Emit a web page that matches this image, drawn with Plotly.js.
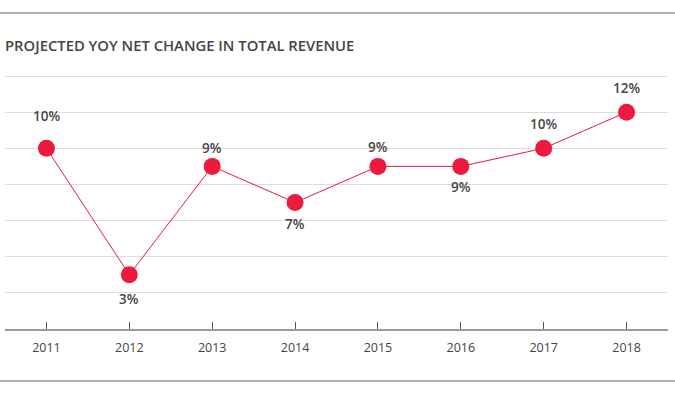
<!DOCTYPE html>
<html>
<head>
<meta charset="utf-8">
<script src="https://cdn.plot.ly/plotly-3.0.1.min.js"></script>
<style>html,body{margin:0;padding:0;background:#fff;}#chart{width:675px;height:395px;}</style>
</head>
<body>
<div id="chart"></div>
<script>
const years = [2011, 2012, 2013, 2014, 2015, 2016, 2017, 2018];
const values = [10, 3, 9, 7, 9, 9, 10, 12];
const labels = ["10%", "3%", "9%", "7%", "9%", "9%", "10%", "12%"];
const labelShift = [32, -24, 18, -21, 19, -21, 24, 24];

const red = "#ec1a3d";
const textColor = "#444444";
const font = "Open Sans, Noto Sans, sans-serif";

const plotTop = 67, plotBottom = 329, plotH = plotBottom - plotTop;
const plotLeft = 5, plotRight = 668, plotW = plotRight - plotLeft;

const trace = {
  x: years, y: values, type: "scatter", mode: "lines+markers",
  line: {color: red, width: 1},
  marker: {color: red, size: 17},
  hoverinfo: "skip"
};

const annotations = years.map((yr, i) => ({
  x: yr, y: values[i], xref: "x", yref: "y",
  text: labels[i], showarrow: false, yshift: labelShift[i],
  font: {family: font, size: 13.5, color: textColor, weight: 600}
}));
annotations.push({
  xref: "paper", yref: "paper", x: 0, y: (plotBottom - 45) / plotH,
  xanchor: "left", yanchor: "middle", showarrow: false, xshift: -2,
  text: "PROJECTED YOY NET CHANGE IN TOTAL REVENUE",
  font: {family: font, size: 14.8, color: textColor, weight: 600}
});

const layout = {
  width: 675, height: 395,
  margin: {l: plotLeft, r: 675 - plotRight, t: plotTop, b: 395 - plotBottom},
  paper_bgcolor: "#fff", plot_bgcolor: "#fff",
  showlegend: false,
  xaxis: {
    range: [2010.5, 2018.5], tickvals: years, ticktext: years.map(String),
    ticks: "inside", ticklen: 7, tickcolor: "#555", tickwidth: 1,
    ticklabelstandoff: 6,
    showgrid: false, zeroline: false,
    showline: true, linecolor: "#9a9a9a", linewidth: 2,
    tickfont: {family: font, size: 12.5, color: textColor},
    fixedrange: true
  },
  yaxis: {
    range: [0, 14.5], tickvals: [0, 2, 4, 6, 8, 10, 12, 14],
    showticklabels: false, ticks: "",
    showgrid: true, gridcolor: "#dcdcdc", gridwidth: 1,
    zeroline: false, showline: false, fixedrange: true
  },
  shapes: [
    {type: "line", xref: "paper", yref: "paper",
     x0: -plotLeft / plotW, x1: 1 + (675 - plotRight) / plotW,
     y0: (plotBottom - 13) / plotH, y1: (plotBottom - 13) / plotH,
     line: {color: "#999", width: 1.5}},
    {type: "line", xref: "paper", yref: "paper",
     x0: -plotLeft / plotW, x1: 1 + (675 - plotRight) / plotW,
     y0: (plotBottom - 381) / plotH, y1: (plotBottom - 381) / plotH,
     line: {color: "#999", width: 1.5}}
  ],
  annotations: annotations
};

Plotly.newPlot("chart", [trace], layout, {displayModeBar: false, staticPlot: true});
</script>
</body>
</html>
